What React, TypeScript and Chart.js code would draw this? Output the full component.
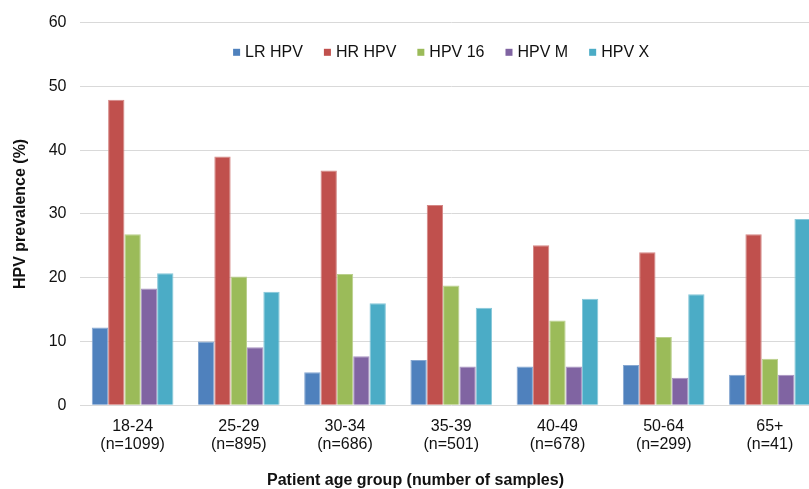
import React, { useEffect, useRef } from "react";
import { Chart, registerables } from "chart.js";

Chart.register(...registerables);

const categories: string[][] = [
  ["18-24", "(n=1099)"],
  ["25-29", "(n=895)"],
  ["30-34", "(n=686)"],
  ["35-39", "(n=501)"],
  ["40-49", "(n=678)"],
  ["50-64", "(n=299)"],
  ["65+", "(n=41)"],
];
const seriesNames = ["LR HPV", "HR HPV", "HPV 16", "HPV M", "HPV X"];
const lrHpv = [12.2, 10.0, 5.2, 7.1, 6.1, 6.3, 4.8];
const hrHpv = [47.9, 39.0, 36.8, 31.4, 25.1, 24.0, 26.8];
const hpv16 = [26.8, 20.2, 20.6, 18.8, 13.3, 10.7, 7.3];
const hpvM = [18.3, 9.1, 7.7, 6.1, 6.1, 4.3, 4.8];
const hpvX = [20.7, 17.8, 16.0, 15.3, 16.7, 17.4, 29.2];
const yMin = 0;
const yMax = 60;
const yStep = 10;
const yTitle = "HPV prevalence (%)";
const xTitle = "Patient age group (number of samples)";

const fills = ["#4F81BD", "#C0504D", "#9BBB59", "#8064A2", "#4BACC6"];
const edges = ["#86A7D1", "#D48785", "#BAD08C", "#A893C1", "#86C7D9"];
const FONT = "Arial, 'Liberation Sans', sans-serif";
const TEXT = "#111111";

const overlayPlugin = {
  id: "overlayText",
  afterDraw(chart: any) {
    const { ctx, chartArea } = chart;
    ctx.save();
    ctx.font = `16px ${FONT}`;
    ctx.textBaseline = "middle";
    ctx.textAlign = "left";
    let x = chartArea.left + 153.6;
    const y = chartArea.top + 29.7;
    chart.data.datasets.forEach((ds: any) => {
      ctx.fillStyle = ds.backgroundColor;
      ctx.fillRect(x, y - 3.5, 7, 7);
      ctx.fillStyle = TEXT;
      ctx.fillText(ds.label, x + 12, y);
      x += 12 + ctx.measureText(ds.label).width + 21;
    });
    ctx.font = `bold 16px ${FONT}`;
    ctx.textAlign = "center";
    ctx.fillStyle = TEXT;
    ctx.fillText(xTitle, chartArea.left + 336, chartArea.bottom + 75);
    ctx.restore();
  },
};

export default function App() {
  const ref = useRef<HTMLCanvasElement | null>(null);
  useEffect(() => {
    if (!ref.current) return;
    const series = [lrHpv, hrHpv, hpv16, hpvM, hpvX];
    const chart = new Chart(ref.current, {
      type: "bar",
      data: {
        labels: categories,
        datasets: series.map((d, i) => ({
          label: seriesNames[i],
          data: d,
          backgroundColor: fills[i],
          borderColor: edges[i],
          borderWidth: 1,
          categoryPercentage: 0.769,
          barPercentage: 1,
        })),
      },
      options: {
        responsive: false,
        animation: false,
        devicePixelRatio: 1,
        layout: { padding: { top: 20.5, left: 0, right: 0, bottom: 0 } },
        plugins: { legend: { display: false }, tooltip: { enabled: false } },
        scales: {
          x: {
            grid: { display: false },
            border: { display: false },
            ticks: {
              padding: 4,
              color: TEXT,
              font: { family: FONT, size: 16, lineHeight: 1.15 },
              maxRotation: 0,
            },
            afterFit: (scale: any) => {
              scale.height = 83.7;
            },
          },
          y: {
            min: yMin,
            max: yMax,
            grid: { color: "#D9D9D9", drawTicks: false, lineWidth: 1 },
            border: { display: false },
            ticks: {
              stepSize: yStep,
              padding: 13,
              color: TEXT,
              font: { family: FONT, size: 16 },
            },
            title: {
              display: true,
              text: yTitle,
              color: TEXT,
              font: { family: FONT, size: 16, weight: "bold" },
              padding: { top: 11, bottom: 0 },
            },
            afterFit: (scale: any) => {
              scale.width = 79.5;
            },
          },
        },
      },
      plugins: [overlayPlugin],
    });
    return () => chart.destroy();
  }, []);
  return (
    <div
      style={{
        position: "fixed",
        left: 0,
        top: 0,
        width: 809,
        height: 489,
        overflow: "hidden",
        background: "#ffffff",
      }}
    >
      <canvas ref={ref} width={823} height={489} style={{ display: "block", width: 823, height: 489 }} />
    </div>
  );
}
